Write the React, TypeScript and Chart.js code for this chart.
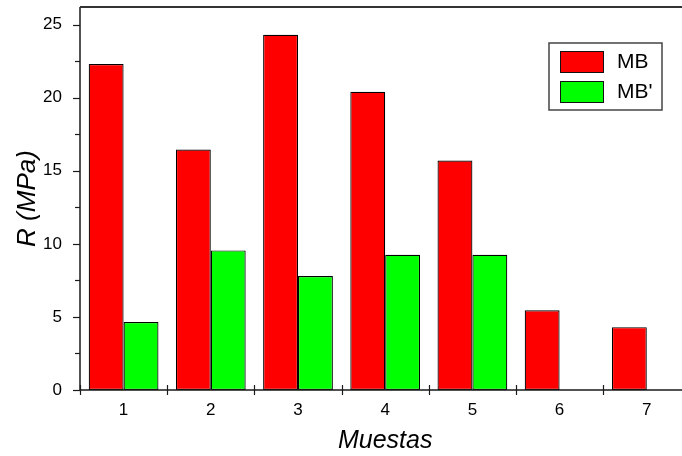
import React, { useEffect, useRef } from "react";
import { Chart, registerables } from "chart.js";

Chart.register(...registerables);

const categories = ["1", "2", "3", "4", "5", "6", "7"];
const mbValues = [22.3, 16.45, 24.3, 20.4, 15.7, 5.45, 4.3];
const mbPrimeValues: (number | null)[] = [4.65, 9.55, 7.8, 9.25, 9.25, null, null];
const seriesNames = ["MB", "MB'"];
const seriesColors = ["#ff0000", "#00ff00"];
const yMax = 26.2;
const yStep = 5;
const yMinorStep = 2.5;

const FONT = "'Liberation Sans', Arial, sans-serif";

const decorPlugin = {
  id: "decor",
  afterDatasetsDraw(chart: any) {
    const { ctx, chartArea: a, scales } = chart;
    const xs = scales.x;
    const ys = scales.y;
    ctx.save();
    // axes
    ctx.strokeStyle = "#1a1a1a";
    ctx.lineWidth = 1.5;
    ctx.beginPath();
    ctx.moveTo(a.left, a.top);
    ctx.lineTo(a.left, a.bottom);
    ctx.lineTo(a.right, a.bottom);
    ctx.stroke();
    ctx.strokeStyle = "#333";
    ctx.lineWidth = 2;
    ctx.beginPath();
    ctx.moveTo(a.left, a.top);
    ctx.lineTo(a.right + 20, a.top);
    ctx.stroke();
    // y ticks
    ctx.strokeStyle = "#1a1a1a";
    ctx.lineWidth = 1.2;
    for (let v = 0; v <= yMax + 1e-9; v += yMinorStep) {
      const y = Math.round(ys.getPixelForValue(v)) + 0.5;
      const major = Math.abs(v / yStep - Math.round(v / yStep)) < 1e-6;
      const len = major ? 7 : 5;
      ctx.beginPath();
      ctx.moveTo(a.left - len, y);
      ctx.lineTo(a.left, y);
      ctx.stroke();
    }
    // x ticks at category boundaries
    for (let i = 0; i <= categories.length; i++) {
      const x = Math.round(xs.getPixelForValue(i - 0.5)) + 0.5;
      ctx.beginPath();
      ctx.moveTo(x, a.bottom - 5);
      ctx.lineTo(x, a.bottom + 5);
      ctx.stroke();
    }
    // legend
    const lx = 549, ly = 43, lw = 113, lh = 67;
    ctx.fillStyle = "#fff";
    ctx.fillRect(lx, ly, lw, lh);
    ctx.strokeStyle = "#444";
    ctx.lineWidth = 1.5;
    ctx.strokeRect(lx, ly, lw, lh);
    ctx.font = `21px ${FONT}`;
    ctx.textBaseline = "middle";
    ctx.textAlign = "left";
    seriesNames.forEach((name, i) => {
      const sy = 51 + i * 30;
      ctx.fillStyle = seriesColors[i];
      ctx.fillRect(560, sy, 43, 21);
      ctx.strokeStyle = "#111";
      ctx.lineWidth = 1;
      ctx.strokeRect(560.5, sy + 0.5, 43, 21);
      ctx.fillStyle = "#000";
      ctx.fillText(name, 617, sy + 11.5);
    });
    ctx.restore();
  },
};

export default function App() {
  const ref = useRef<HTMLCanvasElement>(null);
  useEffect(() => {
    if (!ref.current) return;
    const chart = new Chart(ref.current, {
      type: "bar",
      data: {
        labels: categories,
        datasets: [
          {
            label: seriesNames[0],
            data: mbValues,
            backgroundColor: seriesColors[0],
            borderColor: "#000",
            borderWidth: 1.2,
            borderSkipped: false,
          },
          {
            label: seriesNames[1],
            data: mbPrimeValues,
            backgroundColor: seriesColors[1],
            borderColor: "#000",
            borderWidth: 1.2,
            borderSkipped: false,
          },
        ],
      },
      options: {
        animation: false,
        responsive: false,
        maintainAspectRatio: false,
        layout: { padding: { left: 0, right: 9.6, top: 7, bottom: 0 } },
        plugins: { legend: { display: false }, tooltip: { enabled: false } },
        datasets: { bar: { categoryPercentage: 0.8, barPercentage: 1.0 } },
        scales: {
          x: {
            type: "category",
            offset: true,
            grid: { display: false, offset: true },
            border: { display: false },
            ticks: {
              color: "#000",
              font: { family: FONT, size: 17 },
              padding: 2,
              maxRotation: 0,
            },
            title: {
              display: true,
              text: "Muestas",
              color: "#000",
              font: { family: FONT, size: 25, style: "italic" },
              padding: { top: 0, bottom: 0 },
            },
            afterFit(scale: any) {
              scale.height = 66;
              scale.paddingLeft = 0;
              scale.paddingRight = 0;
            },
          },
          y: {
            min: 0,
            max: yMax,
            grid: { display: false },
            border: { display: false },
            ticks: {
              stepSize: yStep,
              includeBounds: false,
              color: "#000",
              font: { family: FONT, size: 17 },
              padding: 10,
            },
            title: {
              display: true,
              text: "R (MPa)",
              color: "#000",
              font: { family: FONT, size: 26, style: "italic" },
              padding: { top: 12, bottom: 0 },
            },
            afterFit(scale: any) {
              scale.width = 80;
              scale.paddingTop = 0;
              scale.paddingBottom = 0;
            },
          },
        },
      },
      plugins: [decorPlugin],
    });
    return () => chart.destroy();
  }, []);
  return (
    <div
      style={{
        position: "fixed",
        left: 0,
        top: 0,
        width: 682,
        height: 456,
        overflow: "hidden",
        background: "#fff",
      }}
    >
      <canvas ref={ref} width={700} height={456} style={{ display: "block" }} />
    </div>
  );
}
